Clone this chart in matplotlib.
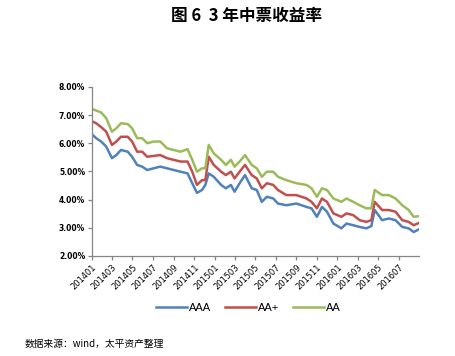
import matplotlib
matplotlib.use('Agg')
import matplotlib.pyplot as plt
import matplotlib.dates as mdates
import pandas as pd

plt.rcParams['font.family'] = ['Noto Sans CJK SC', 'DejaVu Sans']

# 3-year medium-term note yields (%)
dates = ["2014-01-02", "2014-01-13", "2014-01-28", "2014-02-12", "2014-03-01", "2014-03-14",
         "2014-03-28", "2014-04-17", "2014-04-30", "2014-05-15", "2014-05-30", "2014-06-14",
         "2014-07-03", "2014-07-23", "2014-08-12", "2014-09-01", "2014-09-21", "2014-10-12",
         "2014-10-26", "2014-11-09", "2014-11-24", "2014-12-04", "2014-12-14", "2014-12-29",
         "2015-01-20", "2015-02-03", "2015-02-18", "2015-03-01", "2015-03-16", "2015-04-01",
         "2015-04-21", "2015-05-06", "2015-05-21", "2015-06-05", "2015-06-24", "2015-07-08",
         "2015-08-02", "2015-09-01", "2015-10-01", "2015-10-16", "2015-11-01", "2015-11-16",
         "2015-12-01", "2015-12-20", "2016-01-13", "2016-01-28", "2016-02-17", "2016-03-07",
         "2016-03-27", "2016-04-11", "2016-04-21", "2016-05-13", "2016-06-02", "2016-06-22",
         "2016-07-12", "2016-07-31", "2016-08-15", "2016-08-30"]

aaa = [6.30, 6.18, 6.06, 5.88, 5.47, 5.58, 5.76, 5.70, 5.52, 5.23, 5.17, 5.05,
       5.11, 5.17, 5.11, 5.05, 4.99, 4.93, 4.58, 4.24, 4.34, 4.52, 4.93, 4.81,
       4.52, 4.40, 4.52, 4.28, 4.58, 4.87, 4.40, 4.34, 3.92, 4.10, 4.04, 3.86,
       3.80, 3.86, 3.74, 3.69, 3.39, 3.74, 3.57, 3.15, 2.98, 3.15, 3.09, 3.03,
       2.98, 3.06, 3.63, 3.27, 3.33, 3.27, 3.03, 2.98, 2.85, 2.94]

aa_plus = [6.77, 6.71, 6.57, 6.41, 5.94, 6.06, 6.23, 6.23, 6.06, 5.70, 5.70, 5.52,
           5.55, 5.58, 5.47, 5.41, 5.35, 5.35, 4.99, 4.52, 4.69, 4.69, 5.52, 5.23,
           4.99, 4.87, 4.99, 4.75, 4.99, 5.23, 4.87, 4.75, 4.40, 4.58, 4.52, 4.34,
           4.16, 4.16, 4.04, 3.92, 3.69, 4.04, 3.92, 3.51, 3.39, 3.51, 3.45, 3.27,
           3.21, 3.27, 3.92, 3.63, 3.63, 3.57, 3.27, 3.21, 3.09, 3.17]

aa = [7.21, 7.16, 7.09, 6.89, 6.41, 6.53, 6.71, 6.68, 6.53, 6.18, 6.18, 6.00,
      6.06, 6.06, 5.82, 5.76, 5.70, 5.79, 5.41, 4.99, 5.11, 5.11, 5.94, 5.64,
      5.41, 5.23, 5.41, 5.17, 5.35, 5.58, 5.23, 5.11, 4.81, 4.99, 4.99, 4.81,
      4.69, 4.58, 4.52, 4.40, 4.10, 4.40, 4.34, 4.04, 3.92, 4.04, 3.92, 3.80,
      3.69, 3.69, 4.34, 4.16, 4.16, 4.04, 3.80, 3.63, 3.39, 3.41]

x = pd.to_datetime(dates)

fig = plt.figure(figsize=(4.56, 3.56), dpi=100)
ax = fig.add_axes([0.202, 0.281, 0.717, 0.475])

ax.plot(x, aaa, color='#4F81BD', lw=1.8, label='AAA')
ax.plot(x, aa_plus, color='#C0504D', lw=1.8, label='AA+')
ax.plot(x, aa, color='#9BBB59', lw=1.8, label='AA')

ax.set_ylim(2, 8)
ax.set_yticks([2, 3, 4, 5, 6, 7, 8])
ax.set_yticklabels(['%.2f%%' % v for v in [2, 3, 4, 5, 6, 7, 8]],
                   family='DejaVu Sans', fontweight='bold', fontsize=5.5)

ax.set_xlim(pd.Timestamp('2014-01-01'), pd.Timestamp('2016-08-31'))
ax.xaxis.set_major_locator(mdates.MonthLocator(bymonth=[1, 3, 5, 7, 9, 11]))
ax.xaxis.set_major_formatter(mdates.DateFormatter('%Y%m'))
for lbl in ax.get_xticklabels():
    lbl.set_rotation(45)
    lbl.set_ha('right')
    lbl.set_rotation_mode('anchor')
    lbl.set_fontsize(6)
    lbl.set_family('DejaVu Sans')

for s in ['top', 'right']:
    ax.spines[s].set_visible(False)
for s in ['left', 'bottom']:
    ax.spines[s].set_color('#868686')
    ax.spines[s].set_linewidth(0.9)
ax.tick_params(axis='both', color='#868686', length=3, width=0.9, pad=2)

fig.text(0.54, 0.955, '图 6  3 年中票收益率', ha='center', va='center',
         fontsize=12, fontweight='bold')

fig.legend(loc='center', bbox_to_anchor=(0.545, 0.135), ncol=3, frameon=False,
           prop={'family': 'Liberation Sans', 'size': 8},
           handlelength=2.8, handletextpad=0.2, columnspacing=1.2)

fig.text(0.055, 0.035, '数据来源：wind，太平资产整理', ha='left', va='center', fontsize=7)

fig.savefig('out.png', dpi=100)
